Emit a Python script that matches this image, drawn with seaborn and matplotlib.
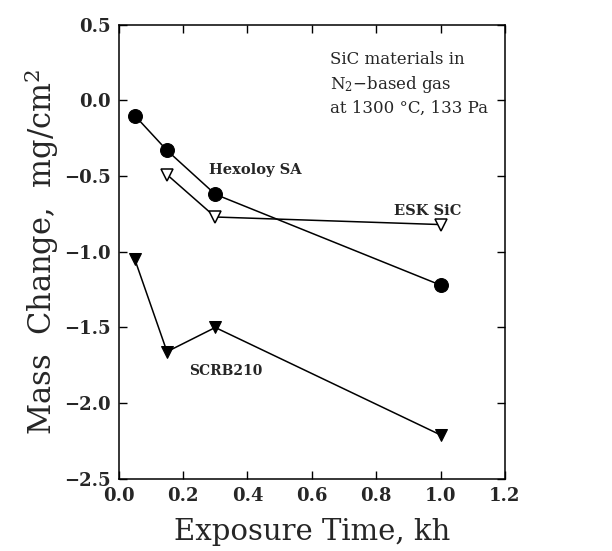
import matplotlib
matplotlib.use('Agg')

import seaborn as sns
import pandas as pd
import matplotlib.pyplot as plt

# Data
hexoloy_time = [0.05, 0.15, 0.30, 1.0]
hexoloy_mass = [-0.10, -0.33, -0.62, -1.22]

esk_time = [0.15, 0.30, 1.0]
esk_mass = [-0.49, -0.77, -0.82]

scrb_time = [0.05, 0.15, 0.30, 1.0]
scrb_mass = [-1.05, -1.66, -1.50, -2.21]

x_ticks = [0.0, 0.2, 0.4, 0.6, 0.8, 1.0, 1.2]
y_ticks = [-2.5, -2.0, -1.5, -1.0, -0.5, 0.0, 0.5]

sns.set_theme(style="ticks")
plt.rcParams['font.family'] = ['DejaVu Serif']
plt.rcParams['mathtext.fontset'] = 'dejavuserif'

fig = plt.figure(figsize=(6.12, 5.51), dpi=100)
ax = fig.add_axes([0.194, 0.131, 0.631, 0.824])

hex_df = pd.DataFrame({'t': hexoloy_time, 'm': hexoloy_mass})
esk_df = pd.DataFrame({'t': esk_time, 'm': esk_mass})
scrb_df = pd.DataFrame({'t': scrb_time, 'm': scrb_mass})

sns.lineplot(data=hex_df, x='t', y='m', ax=ax, color='black', linewidth=1.1,
             marker='o', markersize=10, markerfacecolor='black',
             markeredgecolor='black')
sns.lineplot(data=esk_df, x='t', y='m', ax=ax, color='black', linewidth=1.1,
             marker='v', markersize=9, markerfacecolor='white',
             markeredgecolor='black', markeredgewidth=1.1)
sns.lineplot(data=scrb_df, x='t', y='m', ax=ax, color='black', linewidth=1.1,
             marker='v', markersize=9, markerfacecolor='black',
             markeredgecolor='black')

ax.set_xlim(0.0, 1.2)
ax.set_ylim(-2.5, 0.5)
ax.set_xticks(x_ticks)
ax.set_yticks(y_ticks)
ax.set_xticklabels([f'{v:.1f}' for v in x_ticks], fontsize=13, fontweight='bold')
ax.set_yticklabels([f'{v:.1f}'.replace('-', '\u2212') for v in y_ticks],
                   fontsize=13, fontweight='bold')
ax.tick_params(direction='in', length=6, width=1, top=True, right=True,
               color='black', pad=6)
for spine in ax.spines.values():
    spine.set_color('black')
    spine.set_linewidth(1.1)

ax.set_xlabel('Exposure Time, kh', fontsize=21, labelpad=9)
ax.set_ylabel('Mass  Change,  mg/cm$^2$', fontsize=22, labelpad=2)

ax.text(0.655, 0.33, 'SiC materials in\nN$_2$\u2212based gas\nat 1300 \u00b0C, 133 Pa',
        fontsize=12, va='top', ha='left', linespacing=1.4)
ax.text(0.423, -0.46, 'Hexoloy SA', fontsize=10.5, ha='center', va='center',
        fontweight='bold')
ax.text(0.96, -0.73, 'ESK SiC', fontsize=10.5, ha='center', va='center',
        fontweight='bold')
ax.text(0.333, -1.79, 'SCRB210', fontsize=10, ha='center', va='center',
        fontweight='bold')

fig.savefig('out.png', dpi=100)
plt.close(fig)
